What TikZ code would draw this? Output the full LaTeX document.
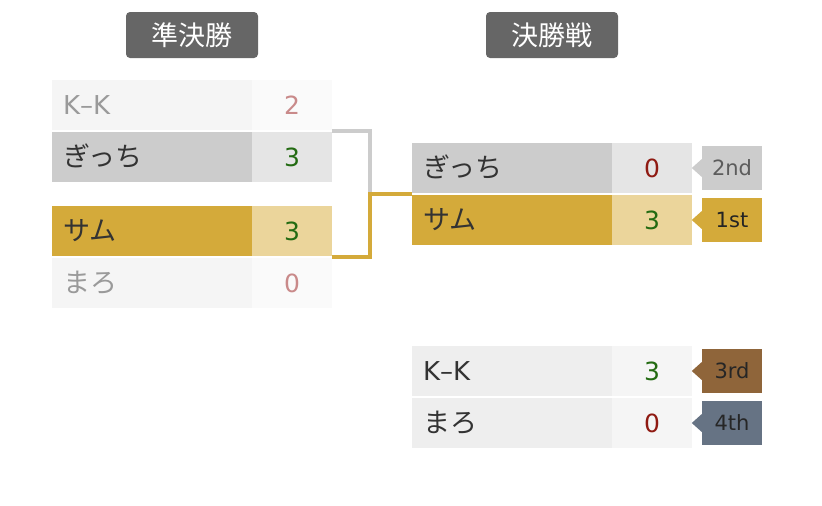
\documentclass[tikz,border=0pt]{standalone}
\usepackage{fontspec}
\setmainfont{Noto Sans CJK JP}
\newfontfamily\latinfont{DejaVu Sans}

\definecolor{titlegray}{HTML}{666666}
\definecolor{gold}{HTML}{D4AA3A}
\definecolor{goldlight}{HTML}{EBD59B}
\definecolor{silver}{HTML}{CCCCCC}
\definecolor{silverlight}{HTML}{E5E5E5}
\definecolor{pale}{HTML}{F5F5F5}
\definecolor{paler}{HTML}{FAFAFA}
\definecolor{plain}{HTML}{EEEEEE}
\definecolor{plainlight}{HTML}{F5F5F5}
\definecolor{bronze}{HTML}{8F653A}
\definecolor{slate}{HTML}{667384}
\definecolor{wingreen}{HTML}{236B12}
\definecolor{losered}{HTML}{8F1A12}
\definecolor{fadedred}{HTML}{C98A8A}
\definecolor{ink}{HTML}{333333}
\definecolor{fadedink}{HTML}{9A9A9A}

\tikzset{
  titlebox/.style={fill=titlegray, rounded corners=4pt, minimum width=132, minimum height=46,
    inner sep=0pt, text=white, font=\fontsize{27}{27}\selectfont},
  namecell/.style={minimum width=200, minimum height=50, inner xsep=11pt, inner ysep=0pt,
    text width=178pt, align=left, text height=18pt, text depth=0pt, text=ink,
    font=\fontsize{27}{27}\selectfont},
  latinname/.style={font=\latinfont\fontsize{26}{26}\selectfont, inner xsep=11pt, text width=178pt},
  scorecell/.style={minimum width=80, minimum height=50, inner sep=0pt,
    text height=18pt, text depth=0pt, font=\latinfont\fontsize{25}{25}\selectfont},
  tagbox/.style={minimum width=60, minimum height=44, inner sep=0pt,
    text height=15pt, text depth=0pt, font=\latinfont\fontsize{21}{21}\selectfont},
  link/.style={line width=4pt}
}

\newcommand{\tagtip}[2]{\fill[#2] (#1.west) ++(0,-9) -- ++(-10,9) -- ++(10,9) -- cycle;}

\begin{document}
\begin{tikzpicture}[x=1pt,y=1pt,yscale=-1,xscale=1]
\useasboundingbox (0,0) rectangle (822,506);

% titles
\node[titlebox] (semititle) at (192,35) {準決勝};
\node[titlebox] (finaltitle) at (552,35) {決勝戦};

% semifinal 1
\node[namecell, latinname, fill=pale, text=fadedink] (kk1) at (152,105) {K–K};
\node[scorecell, fill=paler, text=fadedred] (kk1s) at (292,105) {2};
\node[namecell, fill=silver] (gi1) at (152,157) {ぎっち};
\node[scorecell, fill=silverlight, text=wingreen] (gi1s) at (292,157) {3};

% semifinal 2
\node[namecell, fill=gold] (sa1) at (152,231) {サム};
\node[scorecell, fill=goldlight, text=wingreen] (sa1s) at (292,231) {3};
\node[namecell, fill=pale, text=fadedink] (ma1) at (152,283) {まろ};
\node[scorecell, fill=paler, text=fadedred] (ma1s) at (292,283) {0};

% final
\node[namecell, fill=silver] (gi2) at (512,168) {ぎっち};
\node[scorecell, fill=silverlight, text=losered] (gi2s) at (652,168) {0};
\node[namecell, fill=gold] (sa2) at (512,220) {サム};
\node[scorecell, fill=goldlight, text=wingreen] (sa2s) at (652,220) {3};

% third place
\node[namecell, latinname, fill=plain] (kk2) at (512,371) {K–K};
\node[scorecell, fill=plainlight, text=wingreen] (kk2s) at (652,371) {3};
\node[namecell, fill=plain] (ma2) at (512,423) {まろ};
\node[scorecell, fill=plainlight, text=losered] (ma2s) at (652,423) {0};

% connectors
\coordinate (top) at (332,131);
\coordinate (bot) at (332,257);
\coordinate (mid) at (370,194);
\draw[link, silver] (top) -| (mid);
\draw[link, gold] (bot) -| (mid) -- (sa2.west |- mid);

% ranks
\node[tagbox, fill=silver, text=ink!80] (r2) at (732,168) {2nd};
\tagtip{r2}{silver}
\node[tagbox, fill=gold, text=ink!70!black] (r1) at (732,220) {1st};
\tagtip{r1}{gold}
\node[tagbox, fill=bronze, text=black!85] (r3) at (732,371) {3rd};
\tagtip{r3}{bronze}
\node[tagbox, fill=slate, text=black!85] (r4) at (732,423) {4th};
\tagtip{r4}{slate}

\end{tikzpicture}
\end{document}
